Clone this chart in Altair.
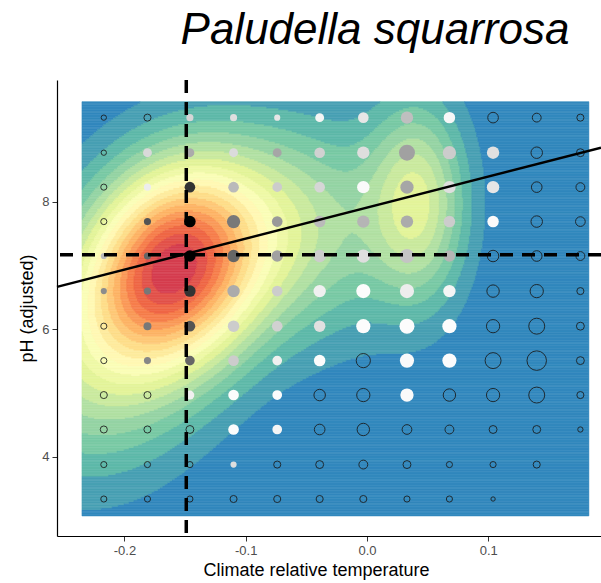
import numpy as np
import pandas as pd
import altair as alt

alt.data_transformers.disable_max_rows()

# ---- climate-relative temperature bins (columns) and pH bins (rows) ----
TEMP_BINS = [-0.217, -0.181, -0.146, -0.110, -0.074, -0.039,
             -0.003, 0.033, 0.068, 0.104, 0.140, 0.176]
PH_BINS = [9.32, 8.77, 8.23, 7.69, 7.15, 6.60, 6.05, 5.51, 4.97, 4.43, 3.88, 3.34]

# number of surveyed sites per bin (rows follow PH_BINS, columns TEMP_BINS)
N_SITES = [
    [9, 16, 16, 16, 12, 25, 36, 49, 42, 36, 25, 16],
    [9, 25, 25, 25, 25, 36, 49, 81, 56, 49, 42, 20],
    [12, 16, 36, 36, 30, 36, 49, 56, 49, 49, 36, 25],
    [12, 16, 42, 56, 36, 42, 49, 49, 42, 42, 42, 30],
    [12, 16, 42, 49, 42, 49, 56, 64, 42, 42, 36, 25],
    [12, 16, 42, 49, 36, 49, 64, 64, 49, 49, 56, 16],
    [12, 20, 36, 42, 36, 42, 64, 72, 64, 56, 81, 20],
    [12, 16, 30, 36, 30, 42, 64, 64, 64, 81, 121, 20],
    [16, 16, 25, 36, 30, 42, 56, 56, 49, 56, 81, 16],
    [16, 16, 20, 36, 30, 36, 49, 30, 25, 20, 20, 9],
    [12, 12, 12, 12, 16, 20, 25, 20, 12, 12, 16, None],
    [12, 12, 12, 16, 16, 16, 16, 12, 12, 6, None, None],
]

# share of sites in each bin where the moss was recorded (0 = absent)
OCC_FREQ = [
    [0, 0, 0.16, 0.13, 0.10, 0.04, 0.10, 0.25, 0.03, 0, 0, 0],
    [0, 0.15, 0.33, 0.14, 0.35, 0.18, 0.13, 0.37, 0.20, 0.12, 0, 0],
    [0, 0.07, 0.80, 0.27, 0.20, 0.16, 0.02, 0.35, 0.13, 0.10, 0, 0],
    [0, 0.67, 1.00, 0.53, 0.40, 0.27, 0.29, 0.33, 0.20, 0.02, 0, 0],
    [0.27, 0.60, 1.00, 0.60, 0.37, 0.20, 0.13, 0.23, 0.29, 0, 0, 0],
    [0.45, 0.53, 0.80, 0.33, 0.20, 0.06, 0.01, 0.07, 0.04, 0, 0, 0],
    [0, 0.53, 0.67, 0.20, 0.18, 0.12, 0.01, 0.01, 0.01, 0, 0, 0],
    [0, 0.47, 0.60, 0.20, 0.06, 0.01, 0, 0.02, 0.01, 0, 0, 0],
    [0, 0, 0.06, 0.01, 0.01, 0, 0, 0.02, 0, 0, 0, 0],
    [0, 0, 0, 0.01, 0.04, 0, 0, 0, 0, 0, 0, 0],
    [0, 0, 0, 0.13, 0, 0, 0, 0, 0, 0, 0, 0],
    [0, 0, 0, 0, 0, 0, 0, 0, 0, 0, 0, 0],
]

# niche optimum and linear pH ~ temperature fit
OPT_TEMP = -0.149
OPT_PH = 7.17
FIT_SLOPE = 4.86
FIT_INTERCEPT = 7.909

# occurrence density: kernel components (centre, spread, correlation, weight)
DENS_CX = [-0.158, 0.042, -0.040, -0.235]
DENS_CY = [7.00, 8.00, 7.60, 5.20]
DENS_SX = [0.054, 0.028, 0.050, 0.060]
DENS_SY = [1.15, 1.10, 1.20, 1.20]
DENS_RHO = [0.20, 0.0, 0.0, 0.0]
DENS_W = [0.78, 0.27, 0.17, 0.16]
N_LEVELS = 20
SPECTRAL = ["#3288bd", "#66c2a5", "#abdda4", "#e6f598", "#ffffbf",
            "#fee08b", "#fdae61", "#f46d43", "#d53e4f"]

X_DOMAIN = [-0.2556, 0.193]
Y_DOMAIN = [2.76, 9.91]

# ---- filled density bands as run-length rectangles ----
gx0, gx1, gy0, gy1 = -0.235, 0.183, 3.075, 9.57
nx, ny = 420, 260
xe = np.linspace(gx0, gx1, nx + 1)
ye = np.linspace(gy0, gy1, ny + 1)
X, Y = np.meshgrid((xe[:-1] + xe[1:]) / 2, (ye[:-1] + ye[1:]) / 2)
dens = np.zeros_like(X)
for cx, cy, sx, sy, rho, w in zip(DENS_CX, DENS_CY, DENS_SX, DENS_SY, DENS_RHO, DENS_W):
    u = (X - cx) / sx
    v = (Y - cy) / sy
    q = (u * u - 2 * rho * u * v + v * v) / (1 - rho * rho)
    dens += w * np.exp(-0.5 * q)
dens /= dens.max()
lev = np.minimum((dens * N_LEVELS).astype(int), N_LEVELS - 1)

rects = []
for j in range(ny):
    row = lev[j]
    cuts = np.flatnonzero(np.diff(row)) + 1
    starts = np.r_[0, cuts]
    ends = np.r_[cuts, nx]
    for s, e in zip(starts, ends):
        rects.append((round(xe[s], 5), round(xe[e], 5),
                      round(ye[j], 4), round(ye[j + 1], 4), int(row[s])))
band_df = pd.DataFrame(rects, columns=["x0", "x1", "y0", "y1", "level"])

x_scale = alt.Scale(domain=X_DOMAIN, nice=False, zero=False)
y_scale = alt.Scale(domain=Y_DOMAIN, nice=False, zero=False)

x_axis = alt.Axis(
    values=[-0.2, -0.1, 0.0, 0.1],
    labelExpr="datum.value < 0 ? '-' + format(-datum.value, '.1f') : format(datum.value, '.1f')",
    title="Climate relative temperature", titleX=259,
)
y_axis = alt.Axis(values=[4, 6, 8], format="d", title="pH (adjusted)")

level_scale = alt.Scale(domain=[k * (N_LEVELS - 1) / 8 for k in range(9)],
                        range=SPECTRAL, interpolate="rgb")
bands = alt.Chart(band_df).mark_rect(strokeWidth=0.6).encode(
    x=alt.X("x0:Q", scale=x_scale, axis=x_axis),
    x2="x1:Q",
    y=alt.Y("y0:Q", scale=y_scale, axis=y_axis),
    y2="y1:Q",
    color=alt.Color("level:Q", scale=level_scale, legend=None),
    stroke=alt.Stroke("level:Q", scale=level_scale, legend=None),
)

# ---- bin points ----
pts = []
for i, ph in enumerate(PH_BINS):
    for k, t in enumerate(TEMP_BINS):
        n = N_SITES[i][k]
        if n is None:
            continue
        pts.append({"temp": t, "ph": ph, "n_sites": n, "freq": OCC_FREQ[i][k]})
pts_df = pd.DataFrame(pts)

size_scale = alt.Scale(domain=[0, 150], range=[0, 150 * np.pi])
x_enc = alt.X("temp:Q", scale=x_scale)
y_enc = alt.Y("ph:Q", scale=y_scale)

present = alt.Chart(pts_df).transform_filter("datum.freq > 0").mark_circle(opacity=1).encode(
    x=x_enc, y=y_enc,
    size=alt.Size("n_sites:Q", scale=size_scale, legend=None),
    fill=alt.Fill("freq:Q", scale=alt.Scale(domain=[0, 1], range=["#ffffff", "#000000"],
                                            interpolate="rgb"), legend=None),
)
absent = alt.Chart(pts_df).transform_filter("datum.freq == 0").mark_point(
    shape="circle", filled=False, color="#1a1a1a", strokeWidth=1, opacity=0.85
).encode(
    x=x_enc, y=y_enc,
    size=alt.Size("n_sites:Q", scale=size_scale, legend=None),
)

# ---- regression line and optimum crosshair ----
fit_df = pd.DataFrame({"temp": X_DOMAIN})
fit_df["ph"] = FIT_INTERCEPT + FIT_SLOPE * fit_df["temp"]
fit = alt.Chart(fit_df).mark_line(color="black", strokeWidth=2.5).encode(x=x_enc, y=y_enc)

opt_df = pd.DataFrame({"temp": [OPT_TEMP], "ph": [OPT_PH]})
vline = alt.Chart(opt_df).mark_rule(color="black", strokeWidth=3.5, strokeDash=[13, 9]).encode(x=x_enc)
hline = alt.Chart(opt_df).mark_rule(color="black", strokeWidth=3.5, strokeDash=[13, 9]).encode(y=y_enc)

chart = alt.layer(
    bands, present, absent, fit, vline, hline,
).resolve_scale(
    color="independent", fill="independent", stroke="independent",
).properties(
    width=544, height=456,
    title=alt.TitleParams("Paludella squarrosa", fontSize=44, fontStyle="italic",
                          fontWeight="normal", font="Liberation Sans", color="black",
                          anchor="middle", dx=46, dy=10, offset=35),
    autosize=alt.AutoSizeParams(type="none"),
    padding={"left": 57, "top": 80, "right": 0, "bottom": 47},
).configure_view(strokeWidth=0).configure_axis(
    grid=False, domainColor="black", domainWidth=1.2, tickColor="#333333", tickSize=5,
    labelFont="Liberation Sans", labelFontSize=13, labelColor="#4d4d4d", labelPadding=3,
    titleFont="Liberation Sans", titleFontSize=18, titleFontWeight="normal",
    titleColor="black", titlePadding=4,
).configure_axisY(titlePadding=5)

chart.save("out.html", embed_options={"renderer": "svg", "actions": False})
